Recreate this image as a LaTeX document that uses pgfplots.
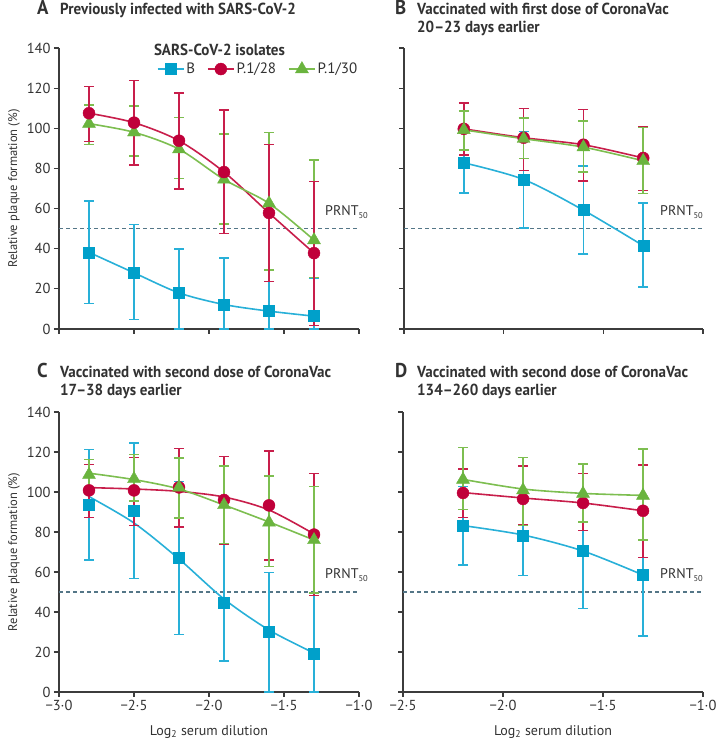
\documentclass[border=0pt]{standalone}
\usepackage{fontspec}
\setmainfont{PT Sans}
\newfontfamily\titlefont[FakeStretch=0.94]{PT Sans}
\usepackage{pgfplots}
\usepackage{pgfplotstable}
\pgfplotsset{compat=1.18}

\definecolor{cB}{RGB}{0,160,202}
\definecolor{cBl}{RGB}{40,176,216}
\definecolor{cR}{RGB}{192,0,58}
\definecolor{cRl}{RGB}{200,30,75}
\definecolor{cG}{RGB}{106,180,62}
\definecolor{cGl}{RGB}{125,190,80}
\definecolor{axcol}{RGB}{60,60,60}
\definecolor{txcol}{RGB}{50,50,50}
\definecolor{prnt}{RGB}{84,118,135}

% panel A
\pgfplotstableread{
x y hi lo
-2.8 38.2 63.7 12.6
-2.5 28.0 52.0 4.7
-2.2 18.0 39.8 0
-1.9 12.2 35.4 0
-1.6 8.9 29.5 0
-1.3 6.4 25.5 0
}\Ab
\pgfplotstableread{
x y hi lo
-2.8 107.5 120.8 93.4
-2.5 102.8 123.8 81.8
-2.2 93.8 117.7 69.7
-1.9 78.2 109.2 47.5
-1.6 57.8 92.0 23.6
-1.3 37.8 73.6 1.7
}\Ar
\pgfplotstableread{
x y hi lo
-2.8 102.3 111.6 92.0
-2.5 98.0 111.0 86.3
-2.2 89.6 105.3 75.1
-1.9 74.5 97.2 52.3
-1.6 62.6 98.0 29.4
-1.3 44.3 84.1 25.6
}\Ag
% panel B
\pgfplotstableread{
x y hi lo
-2.2 82.8 98.8 67.8
-1.9 74.5 98.5 50.2
-1.6 59.2 81.2 37.3
-1.3 41.5 62.8 20.8
}\Bb
\pgfplotstableread{
x y hi lo
-2.2 99.7 112.6 86.8
-1.9 95.3 109.8 79.0
-1.6 91.8 109.4 73.8
-1.3 85.2 101.0 69.0
}\Br
\pgfplotstableread{
x y hi lo
-2.2 99.2 108.6 89.2
-1.9 94.8 105.0 84.9
-1.6 90.6 103.6 78.1
-1.3 83.8 100.3 67.6
}\Bg
% panel C
\pgfplotstableread{
x y hi lo fit
-2.8 93.7 121.3 66.0 97.7
-2.5 90.7 124.5 56.7 84.5
-2.2 67.3 105.3 28.7 66.5
-1.9 44.7 73.7 15.5 46.5
-1.6 30.0 59.7 0 31.0
-1.3 18.9 49.3 0 19.5
}\Cb
\pgfplotstableread{
x y hi lo fit
-2.8 100.8 113.8 87.3 102.2
-2.5 100.8 117.3 83.3 101.5
-2.2 102.3 121.8 82.5 100.3
-1.9 96.0 117.8 73.7 97.5
-1.6 93.3 120.5 66.0 91.0
-1.3 78.7 109.2 48.2 79.0
}\Cr
\pgfplotstableread{
x y hi lo fit
-2.8 108.6 116.2 101.5 109.4
-2.5 106.5 118.8 95.5 106.2
-2.2 102.3 117.0 87.0 101.5
-1.9 93.5 113.0 74.3 93.5
-1.6 84.8 108.0 62.7 85.0
-1.3 76.0 102.7 49.6 76.0
}\Cg
% panel D
\pgfplotstableread{
x y hi lo fit
-2.2 83.2 102.8 63.5 83.2
-1.9 78.3 99.3 58.3 78.5
-1.6 70.5 99.3 41.7 70.5
-1.3 58.5 89.3 28.1 58.5
}\Db
\pgfplotstableread{
x y hi lo fit
-2.2 99.5 111.5 87.3 99.7
-1.9 96.5 113.0 83.5 97.0
-1.6 94.5 109.2 80.7 94.5
-1.3 90.6 113.6 67.2 90.6
}\Dr
\pgfplotstableread{
x y hi lo fit
-2.2 106.2 122.3 91.2 106.3
-1.9 100.9 117.3 83.3 101.5
-1.6 99.2 114.0 85.0 99.3
-1.3 98.2 121.6 76.0 98.3
}\Dg

\pgfplotsset{
  panel/.style={
    scale only axis, width=300pt, height=281pt,
    axis lines=left, axis line style={-, line width=1.3pt, color=axcol},
    ymin=0, ymax=140, ytick={0,20,...,140},
    tick align=outside, major tick length=5pt,
    tick style={line width=1.2pt, color=axcol},
    tick label style={font=\fontsize{14.5}{14.5}\selectfont, text=txcol},
    xlabel style={font=\fontsize{14}{14}\selectfont, text=txcol, yshift=-8pt},
    ylabel style={font=\fontsize{12.5}{12.5}\selectfont, text=txcol},
    /pgf/number format/assume math mode=true,
    clip=false,
    error bars/y dir=both, error bars/y explicit,
  },
  fitline/.style={smooth, line width=1.6pt, forget plot},
  ptB/.style={only marks, forget plot, mark=square*, mark size=5.5pt, color=cB,
    error bars/error bar style={line width=1.5pt, color=cBl},
    error bars/error mark options={rotate=90, mark size=5pt, line width=1.5pt, color=cBl}},
  ptR/.style={only marks, forget plot, mark=*, mark size=6pt, color=cR,
    error bars/error bar style={line width=1.5pt, color=cRl},
    error bars/error mark options={rotate=90, mark size=5pt, line width=1.5pt, color=cRl}},
  ptG/.style={only marks, forget plot, mark=triangle*, mark size=7.5pt, color=cG,
    error bars/error bar style={line width=1.5pt, color=cGl},
    error bars/error mark options={rotate=90, mark size=5pt, line width=1.5pt, color=cGl}},
  prntline/.style={dashed, dash pattern=on 4pt off 3pt, line width=1.3pt, color=prnt, forget plot},
  table/errtab/.style={x=x, y=y, y error plus expr=\thisrow{hi}-\thisrow{y}, y error minus expr=\thisrow{y}-\thisrow{lo}},
}
% PRNT50 label, #1 = shift past the axis end
\newcommand{\prntlabel}[1]{\node[anchor=base east, inner sep=0pt, text=txcol, font=\fontsize{14}{14}\selectfont] at (axis cs:-1.0,50) [yshift=13pt, xshift=#1] {PRNT{\fontsize{8.5}{8.5}\selectfont\raisebox{-2.5pt}{50}}};}
\newcommand{\ttl}{\titlefont\bfseries\fontsize{16}{16}\selectfont}
\newcommand{\ltr}{\titlefont\bfseries\fontsize{20}{20}\selectfont}

\begin{document}
\begin{tikzpicture}
\path[use as bounding box] (0pt,0pt) rectangle (716pt,742pt);

% titles
\node[anchor=base west, inner sep=0pt, text=txcol, font=\ltr] at (37pt,727pt) {A};
\node[anchor=base west, inner sep=0pt, text=txcol, font=\ttl] at (60pt,727pt) {Previously infected with SARS-CoV-2};
\node[anchor=base west, inner sep=0pt, text=txcol, font=\ltr] at (395pt,727pt) {B};
\node[anchor=base west, inner sep=0pt, text=txcol, font=\ttl] at (417pt,727pt) {Vaccinated with first dose of CoronaVac};
\node[anchor=base west, inner sep=0pt, text=txcol, font=\ttl] at (417pt,709pt) {20–23 days earlier};
\node[anchor=base west, inner sep=0pt, text=txcol, font=\ltr] at (37pt,364pt) {C};
\node[anchor=base west, inner sep=0pt, text=txcol, font=\ttl] at (60pt,364pt) {Vaccinated with second dose of CoronaVac};
\node[anchor=base west, inner sep=0pt, text=txcol, font=\ttl] at (60pt,346pt) {17–38 days earlier};
\node[anchor=base west, inner sep=0pt, text=txcol, font=\ltr] at (395pt,364pt) {D};
\node[anchor=base west, inner sep=0pt, text=txcol, font=\ttl] at (417pt,364pt) {Vaccinated with second dose of CoronaVac};
\node[anchor=base west, inner sep=0pt, text=txcol, font=\ttl] at (417pt,346pt) {134–260 days earlier};

% A
\begin{axis}[panel, at={(59pt,413pt)}, anchor=south west,
  xmin=-3, xmax=-1, xtick={-3,-2.5,-2,-1.5,-1}, xticklabels={},
  ylabel={Relative plaque formation (\%)},
  legend columns=3,
  legend style={at={(axis cs:-2.37,129.5)}, anchor=west, draw=none, fill=none,
    font=\fontsize{15}{15}\selectfont, text=txcol,
    /tikz/every even column/.append style={column sep=10pt},
    nodes={inner sep=2pt}},
  legend image code/.code={\draw[#1, line width=1.6pt] (0pt,0pt) -- (26pt,0pt);
    \draw[#1, only marks] plot coordinates {(13pt,0pt)};},
]
\addplot[prntline] coordinates {(-3,50) (-1,50)};
\prntlabel{9pt}
\addplot[fitline, cBl] table[x=x,y=y]{\Ab};
\addplot[fitline, cRl] table[x=x,y=y]{\Ar};
\addplot[fitline, cGl] table[x=x,y=y]{\Ag};
\addplot[ptB] table[errtab]{\Ab};
\addplot[ptG] table[errtab]{\Ag};
\addplot[ptR] table[errtab]{\Ar};
\node[text=txcol, inner sep=0pt, font=\titlefont\bfseries\fontsize{16}{16}\selectfont] at (axis cs:-1.93,139) {SARS-CoV-2 isolates};
\addlegendimage{color=cBl, mark=square*, mark size=5.5pt, mark options={color=cB}}
\addlegendentry{B}
\addlegendimage{color=cRl, mark=*, mark size=6pt, mark options={color=cR}}
\addlegendentry{P.1/28}
\addlegendimage{color=cGl, mark=triangle*, mark size=7.5pt, mark options={color=cG}}
\addlegendentry{P.1/30}
\end{axis}

% B
\begin{axis}[panel, at={(404pt,413pt)}, anchor=south west, width=299pt,
  xmin=-2.5, xmax=-1, xtick={-2.5,-2,-1.5,-1}, xticklabels={}, yticklabels={}]
\addplot[prntline] coordinates {(-2.5,50) (-1,50)};
\prntlabel{0pt}
\addplot[fitline, cBl] table[x=x,y=y]{\Bb};
\addplot[fitline, cRl] table[x=x,y=y]{\Br};
\addplot[fitline, cGl] table[x=x,y=y]{\Bg};
\addplot[ptB] table[errtab]{\Bb};
\addplot[ptR] table[errtab]{\Br};
\addplot[ptG] table[errtab]{\Bg};
\end{axis}

% C
\begin{axis}[panel, at={(59pt,50pt)}, anchor=south west, height=280pt,
  xmin=-3, xmax=-1, xtick={-3,-2.5,-2,-1.5,-1},
  xticklabels={−3·0,−2·5,−2·0,−1·5,−1·0},
  ylabel={Relative plaque formation (\%)},
  xlabel={Log\textsubscript{2} serum dilution}]
\addplot[prntline] coordinates {(-3,50) (-1,50)};
\prntlabel{9pt}
\addplot[fitline, cBl] table[x=x,y=fit]{\Cb};
\addplot[fitline, cRl] table[x=x,y=fit]{\Cr};
\addplot[fitline, cGl] table[x=x,y=fit]{\Cg};
\addplot[ptB] table[errtab]{\Cb};
\addplot[ptR] table[errtab]{\Cr};
\addplot[ptG] table[errtab]{\Cg};
\end{axis}

% D
\begin{axis}[panel, at={(403pt,50pt)}, anchor=south west, height=280pt,
  xmin=-2.5, xmax=-1, xtick={-2.5,-2,-1.5,-1},
  xticklabels={−2·5,−2·0,−1·5,−1·0}, yticklabels={},
  xlabel={Log\textsubscript{2} serum dilution}]
\addplot[prntline] coordinates {(-2.5,50) (-1,50)};
\prntlabel{0pt}
\addplot[fitline, cBl] table[x=x,y=fit]{\Db};
\addplot[fitline, cRl] table[x=x,y=fit]{\Dr};
\addplot[fitline, cGl] table[x=x,y=fit]{\Dg};
\addplot[ptB] table[errtab]{\Db};
\addplot[ptR] table[errtab]{\Dr};
\addplot[ptG] table[errtab]{\Dg};
\end{axis}
\end{tikzpicture}
\end{document}
